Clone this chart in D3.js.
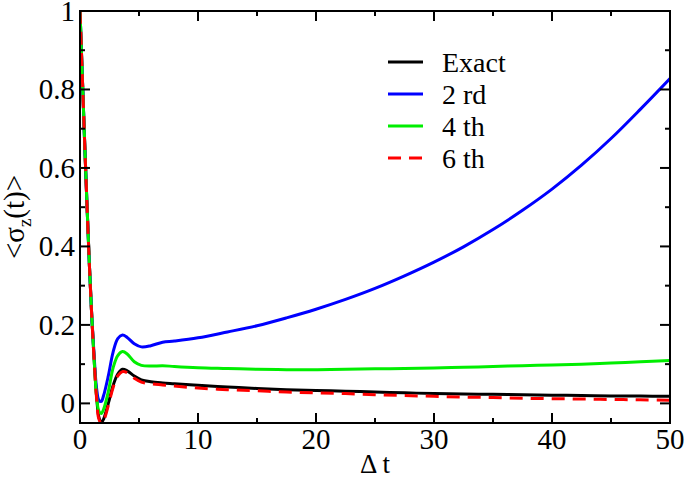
<!DOCTYPE html>
<html>
<head>
<meta charset="utf-8">
<script src="https://cdn.jsdelivr.net/npm/d3@7"></script>
<style>
  svg, svg text, svg tspan { font-family: "Times New Roman", "Liberation Serif", Tinos, serif !important; }
</style>
</head>
<body style="margin:0">
<script>
// data
const times = [0, 0.2, 0.4, 0.6, 0.8, 1.0, 1.2, 1.4, 1.6, 1.8, 2.0, 2.4, 2.8, 3.2, 3.6, 4.0, 4.6, 5.2,
    6, 7, 8, 10, 12.5, 15, 17.5, 20, 22.5, 25, 27.5, 30, 32.5, 35, 37.5, 40, 42.5, 45, 47.5, 50];
const exact = [1.0, 0.83, 0.66, 0.50, 0.35, 0.22, 0.11, 0.02, -0.035, -0.049, -0.04, 0.0, 0.045, 0.075, 0.087, 0.083, 0.07, 0.06,
    0.055, 0.052, 0.05, 0.046, 0.042, 0.038, 0.035, 0.033, 0.031, 0.029, 0.027, 0.025, 0.024, 0.023, 0.022, 0.021, 0.02, 0.019, 0.0185, 0.018];
const second = [1.0, 0.83, 0.66, 0.50, 0.35, 0.22, 0.12, 0.04, 0.008, 0.005, 0.02, 0.07, 0.13, 0.165, 0.174, 0.168, 0.152, 0.144,
    0.147, 0.156, 0.159, 0.167, 0.182, 0.198, 0.218, 0.24, 0.265, 0.293, 0.325, 0.36, 0.399, 0.443, 0.492, 0.546, 0.607, 0.675, 0.75, 0.828];
const fourth = [1.0, 0.83, 0.66, 0.50, 0.35, 0.22, 0.11, 0.02, -0.02, -0.026, -0.015, 0.03, 0.09, 0.122, 0.132, 0.126, 0.106, 0.097,
    0.095, 0.096, 0.094, 0.091, 0.089, 0.087, 0.086, 0.086, 0.087, 0.088, 0.089, 0.09, 0.092, 0.094, 0.096, 0.098, 0.1, 0.103, 0.106, 0.109];
const sixth = [1.0, 0.83, 0.66, 0.50, 0.35, 0.22, 0.11, 0.015, -0.04, -0.05, -0.044, -0.005, 0.04, 0.07, 0.081, 0.078, 0.064, 0.054,
    0.05, 0.047, 0.044, 0.039, 0.035, 0.032, 0.029, 0.027, 0.025, 0.022, 0.02, 0.018, 0.016, 0.015, 0.013, 0.012, 0.011, 0.01, 0.009, 0.008];

const seriesNames = ["Exact", "2 rd", "4 th", "6 th"];
const xTicks = [0, 10, 20, 30, 40, 50];
const yTicks = [0, 0.2, 0.4, 0.6, 0.8, 1];
const yTickLabels = ["0", "0.2", "0.4", "0.6", "0.8", "1"];

// layout
const W = 685, H = 477;
const margin = {top: 11, right: 15, bottom: 54, left: 80};
const width = W - margin.left - margin.right;
const height = H - margin.top - margin.bottom;
const face = "Times New Roman";

const series = [
    {name: seriesNames[0], values: exact, color: "#000000", dash: null},
    {name: seriesNames[1], values: second, color: "#0000ff", dash: null},
    {name: seriesNames[2], values: fourth, color: "#00ee00", dash: null},
    {name: seriesNames[3], values: sixth, color: "#ff0000", dash: "13 8"}
];

const x = d3.scaleLinear().domain([0, 50]).range([0, width]);
const y = d3.scaleLinear().domain([-0.05, 1]).range([height, 0]);

const svg = d3.select("body").append("svg")
    .attr("width", W).attr("height", H)
    .attr("font-family", face);

function label(parent, px, py, size, anchor, str) {
    return parent.append("text")
        .attr("x", px).attr("y", py)
        .attr("text-anchor", anchor)
        .attr("font-family", face)
        .attr("font-size", size)
        .text(str);
}

const g = svg.append("g")
    .attr("transform", `translate(${margin.left},${margin.top})`);

g.append("clipPath").attr("id", "plotclip")
    .append("rect").attr("width", width).attr("height", height);

const line = d3.line()
    .x((d, i) => x(times[i]))
    .y(d => y(d))
    .curve(d3.curveCatmullRom.alpha(0.5));

g.append("g").attr("clip-path", "url(#plotclip)")
    .selectAll("path")
    .data(series)
    .enter()
    .append("path")
    .attr("d", d => line(d.values))
    .attr("fill", "none")
    .attr("stroke", d => d.color)
    .attr("stroke-width", 3)
    .attr("stroke-dasharray", d => d.dash);

// ticks, inward on all four sides
const xMinor = d3.range(5, 50, 10);
const yMinor = [0.1, 0.3, 0.5, 0.7, 0.9];

function ticks(vals, len, horizontal) {
    vals.forEach(v => {
        if (horizontal) {
            g.append("line").attr("x1", x(v)).attr("x2", x(v)).attr("y1", height).attr("y2", height - len)
                .attr("stroke", "#000").attr("stroke-width", 2);
            g.append("line").attr("x1", x(v)).attr("x2", x(v)).attr("y1", 0).attr("y2", len)
                .attr("stroke", "#000").attr("stroke-width", 2);
        } else {
            g.append("line").attr("x1", 0).attr("x2", len).attr("y1", y(v)).attr("y2", y(v))
                .attr("stroke", "#000").attr("stroke-width", 2);
            g.append("line").attr("x1", width).attr("x2", width - len).attr("y1", y(v)).attr("y2", y(v))
                .attr("stroke", "#000").attr("stroke-width", 2);
        }
    });
}
ticks(xTicks, 10, true);
ticks(xMinor, 5, true);
ticks(yTicks, 10, false);
ticks(yMinor, 5, false);

g.append("rect")
    .attr("width", width).attr("height", height)
    .attr("fill", "none").attr("stroke", "#000").attr("stroke-width", 2);

// tick labels
xTicks.forEach(v => label(g, x(v), height + 26, 29, "middle", v));
yTicks.forEach((v, i) => label(g, -5, y(v) + 10, 29, "end", yTickLabels[i]));

// axis titles
label(svg, margin.left + width / 2, 473, 27, "middle", "Δ t");

const yt = label(svg, 0, 0, 29, "middle", null)
    .attr("transform", `translate(24,${margin.top + height / 2}) rotate(-90)`);
yt.append("tspan").text("<σ");
yt.append("tspan").attr("font-size", 19).attr("dy", 7).text("z");
yt.append("tspan").attr("dy", -7).text("(t)>");

// legend
series.forEach((s, i) => {
    const row = svg.append("g").attr("transform", `translate(388,${62 + i * 32})`);
    row.append("line")
        .attr("x1", 0).attr("x2", 35)
        .attr("stroke", s.color).attr("stroke-width", 3)
        .attr("stroke-dasharray", s.dash);
    label(row, 54, 10, 28, "start", s.name);
});
</script>
</body>
</html>
